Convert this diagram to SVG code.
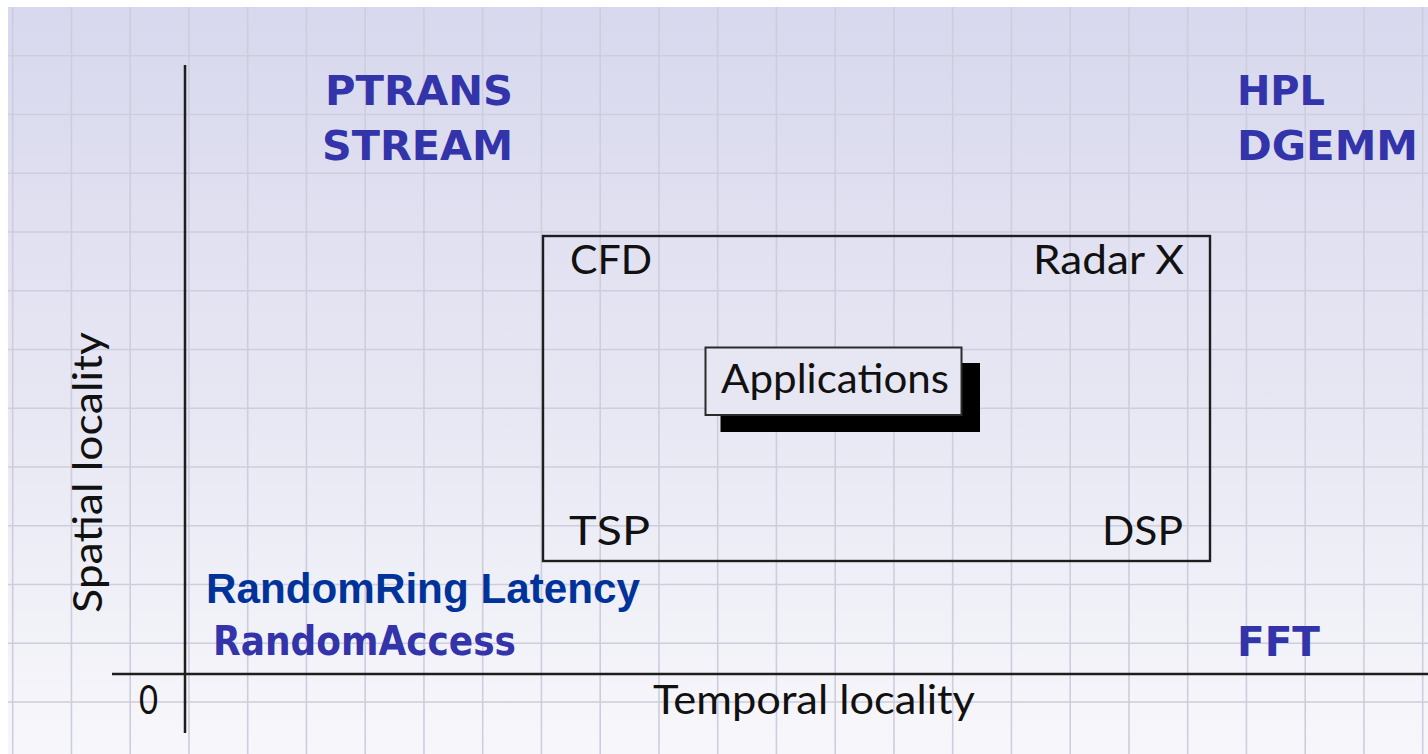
<svg xmlns="http://www.w3.org/2000/svg" width="1428" height="754" viewBox="0 0 1428 754">
<defs>
<linearGradient id="bg" x1="0" y1="0" x2="0" y2="1">
<stop offset="0" stop-color="#d8d8ee"/>
<stop offset="0.5" stop-color="#e6e6f3"/>
<stop offset="1" stop-color="#f7f7fb"/>
</linearGradient>
<style>
.grid{stroke:#cdcddd;stroke-width:1.6;fill:none}
.axis{stroke:#1e1e1e;stroke-width:2.5;fill:none}
.box{stroke:#1e1e1e;stroke-width:2.4;fill:none}
.lbl{font-family:Lato,"DejaVu Sans",sans-serif;font-size:40px;fill:#111}
.bm{font-family:"DejaVu Sans",sans-serif;font-weight:bold;font-size:40px;fill:#3333aa}
.rr{font-family:"Liberation Sans",Arial,sans-serif;font-weight:bold;font-size:42px;fill:#003399}
</style>
</defs>
<rect x="0" y="0" width="1428" height="754" fill="#ffffff"/>
<rect x="8" y="7" width="1420" height="747" fill="url(#bg)"/>
<path class="grid" d="M12.7 7V754M71.45 7V754M130.2 7V754M188.95 7V754M247.7 7V754M306.45 7V754M365.2 7V754M423.95 7V754M482.7 7V754M541.45 7V754M600.2 7V754M658.95 7V754M717.7 7V754M776.45 7V754M835.2 7V754M893.95 7V754M952.7 7V754M1011.45 7V754M1070.2 7V754M1128.95 7V754M1187.7 7V754M1246.45 7V754M1305.2 7V754M1363.95 7V754M1422.7 7V754M8 55.7H1428M8 114.45H1428M8 173.2H1428M8 231.95H1428M8 290.7H1428M8 349.45H1428M8 408.2H1428M8 466.95H1428M8 525.7H1428M8 584.45H1428M8 643.2H1428M8 701.95H1428"/>
<g id="connectors">
<line class="axis" x1="185" y1="65" x2="185" y2="733"/>
<line class="axis" x1="112" y1="674" x2="1428" y2="674"/>
</g>
<g id="axis-labels">
<text class="lbl" x="139" y="714" textLength="19" lengthAdjust="spacingAndGlyphs">0</text>
<text class="lbl" x="653" y="714" textLength="322" lengthAdjust="spacingAndGlyphs">Temporal locality</text>
<text class="lbl" transform="translate(102,613) rotate(-90)" x="0" y="0" textLength="281" lengthAdjust="spacingAndGlyphs">Spatial locality</text>
</g>
<g id="applications-region">
<rect class="box" x="543" y="236" width="667" height="325"/>
<text class="lbl" x="570" y="274" textLength="82" lengthAdjust="spacingAndGlyphs">CFD</text>
<text class="lbl" x="1033" y="274" textLength="151" lengthAdjust="spacingAndGlyphs">Radar X</text>
<text class="lbl" x="569" y="545" textLength="81" lengthAdjust="spacingAndGlyphs">TSP</text>
<text class="lbl" x="1102" y="545" textLength="81" lengthAdjust="spacingAndGlyphs">DSP</text>
</g>
<g id="applications">
<rect x="720.5" y="363" width="259.5" height="69" fill="#000"/>
<rect x="705.5" y="347.5" width="256" height="67.5" fill="#e7e7f3" stroke="#2a2a2a" stroke-width="2"/>
<text class="lbl" x="721" y="393" textLength="228" lengthAdjust="spacingAndGlyphs">Applications</text>
</g>
<g id="ptrans-stream">
<text class="bm" x="325" y="105" textLength="188" lengthAdjust="spacingAndGlyphs">PTRANS</text>
<text class="bm" x="322" y="160" textLength="191" lengthAdjust="spacingAndGlyphs">STREAM</text>
</g>
<g id="hpl-dgemm">
<text class="bm" x="1237" y="105" textLength="88" lengthAdjust="spacingAndGlyphs">HPL</text>
<text class="bm" x="1237" y="160" textLength="181" lengthAdjust="spacingAndGlyphs">DGEMM</text>
</g>
<g id="randomring">
<text class="rr" x="206" y="603" textLength="434" lengthAdjust="spacingAndGlyphs">RandomRing Latency</text>
</g>
<g id="randomaccess">
<text class="bm" x="213" y="655" textLength="303" lengthAdjust="spacingAndGlyphs">RandomAccess</text>
</g>
<g id="fft">
<text class="bm" x="1237" y="656" textLength="83" lengthAdjust="spacingAndGlyphs">FFT</text>
</g>
</svg>
